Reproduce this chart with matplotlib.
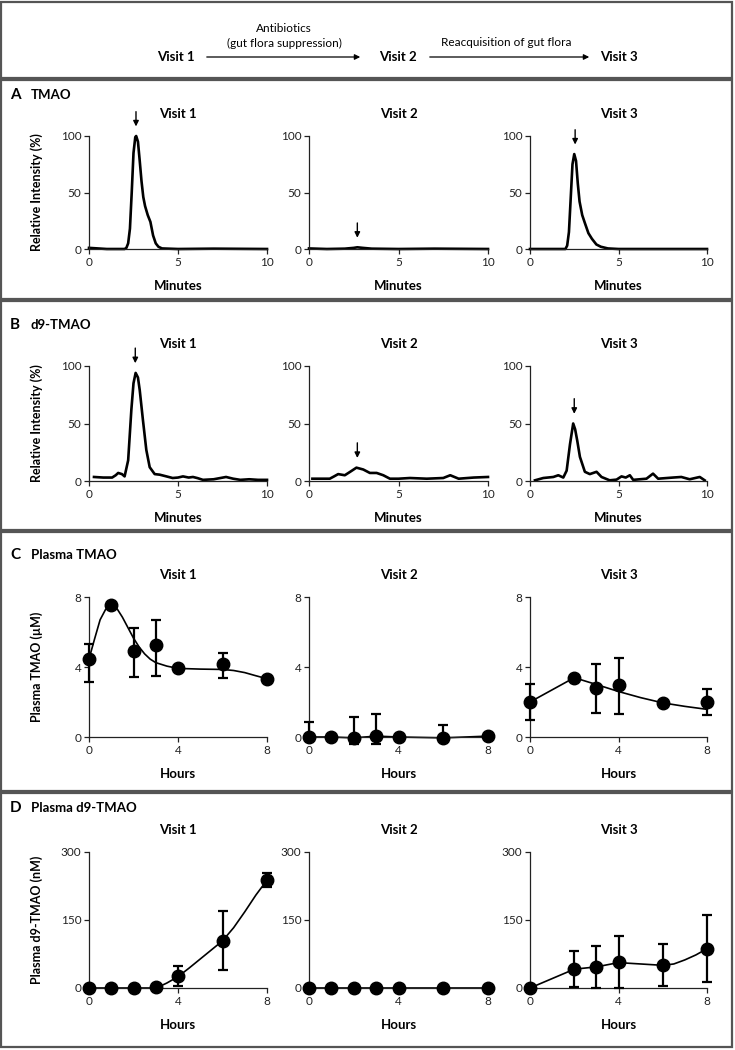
import matplotlib as mpl
mpl.use('Agg')
import matplotlib.pyplot as plt
from matplotlib.patches import Rectangle

plt.rcParams['font.family'] = ['Lato', 'DejaVu Sans']

# ---- data ----
visits = ['Visit 1', 'Visit 2', 'Visit 3']

# panel A: TMAO chromatograms (minutes, relative intensity %)
tmao_v1_t = [0, 0.5, 1, 2.0, 2.1, 2.2, 2.3, 2.4, 2.5, 2.6, 2.65, 2.75, 2.85, 2.95, 3.05, 3.15, 3.3, 3.45, 3.6, 3.75, 3.9, 4.1, 5, 7, 10]
tmao_v1_i = [1, 0.5, 0, 0, 1, 5, 18, 50, 85, 99, 100, 95, 78, 60, 46, 38, 30, 24, 12, 5, 2, 0.5, 0, 0.3, 0]
tmao_v2_t = [0, 1, 2, 2.5, 2.7, 3, 3.5, 5, 7, 10]
tmao_v2_i = [0.5, 0, 0.3, 1, 1.5, 1, 0.3, 0, 0.3, 0]
tmao_v3_t = [0, 1, 2.0, 2.1, 2.2, 2.3, 2.4, 2.5, 2.6, 2.7, 2.8, 2.95, 3.1, 3.3, 3.5, 3.75, 4.0, 4.4, 5, 9.5, 10]
tmao_v3_i = [0, 0, 0, 3, 15, 45, 75, 84, 78, 58, 42, 30, 23, 14, 9, 4, 2, 0.5, 0, 0, 0]

# panel B: d9-TMAO chromatograms
d9_v1_t = [0.28, 0.8, 1.3, 1.5, 1.64, 1.85, 2.0, 2.2, 2.38, 2.5, 2.62, 2.75, 2.85, 3.03, 3.22, 3.41, 3.69, 3.97, 4.35, 4.7, 5.0, 5.28, 5.6, 5.84, 6.1, 6.4, 7.0, 7.7, 8.1, 8.5, 9.0, 9.5, 10]
d9_v1_i = [3.5, 3, 3, 5, 7, 6, 4, 18, 62, 85, 94, 90, 79, 53, 27, 12, 6, 5.5, 4, 2.6, 3, 4, 3, 3.5, 2.5, 1, 1.5, 3.5, 2, 1, 1.5, 1, 1]
d9_v2_t = [0.19, 0.6, 1.16, 1.4, 1.63, 2.0, 2.3, 2.65, 3.03, 3.4, 3.78, 4.15, 4.52, 5.0, 5.64, 6.58, 7.5, 7.89, 8.36, 9.2, 10]
d9_v2_i = [2, 2, 2, 4, 6, 5, 8, 11.6, 10, 7, 7, 5, 2, 2, 2.6, 2, 2.6, 5, 2, 3, 3.5]
d9_v3_t = [0.28, 0.75, 1.32, 1.6, 1.88, 2.07, 2.26, 2.44, 2.55, 2.67, 2.82, 3.1, 3.38, 3.76, 4.04, 4.5, 4.89, 5.17, 5.41, 5.64, 5.83, 6.58, 6.95, 7.24, 8.08, 8.55, 9.02, 9.59, 9.87]
d9_v3_i = [0.6, 2.6, 3.5, 5, 3, 9, 32, 50, 45, 35, 21, 8, 6, 8, 3.5, 0.6, 1.2, 4, 3, 5, 1, 2, 6.4, 2, 3, 3.5, 1.5, 3.5, 0.6]

# arrows mark the TMAO peak on each trace
peak_min_a = [2.64, 2.7, 2.55]
peak_min_b = [2.6, 2.7, 2.5]
peak_top_a = [100, 1.5, 84]
peak_top_b = [94, 11.6, 50]

# panel C: plasma TMAO (uM)
hours_v12 = [0, 1, 2, 3, 4, 6, 8]
hours_v3 = [0, 2, 3, 4, 6, 8]
ptmao_v1 = [4.46, 7.54, 4.94, 5.26, 3.92, 4.15, 3.33]
ptmao_v1_lo = [1.3, 0, 1.5, 1.8, 0, 0.75, 0]
ptmao_v1_hi = [0.86, 0, 1.28, 1.4, 0, 0.67, 0]
ptmao_v2 = [0.0, 0.0, -0.05, 0.05, 0.0, -0.05, 0.05]
ptmao_v2_lo = [0, 0, 0.35, 0.45, 0, 0.1, 0]
ptmao_v2_hi = [0.85, 0, 1.2, 1.25, 0, 0.72, 0]
ptmao_v3 = [2.0, 3.39, 2.82, 2.95, 1.96, 2.0]
ptmao_v3_lo = [1.05, 0, 1.45, 1.65, 0, 0.76]
ptmao_v3_hi = [1.05, 0, 1.37, 1.56, 0, 0.74]
# fitted curves drawn through the points
ptmao_fit_v1_h = [0, 0.25, 0.5, 0.75, 1, 1.25, 1.5, 1.75, 2, 2.25, 2.5, 2.75, 3, 3.5, 4, 5, 6, 6.5, 7, 7.5, 8]
ptmao_fit_v1 = [4.46, 5.6, 6.7, 7.3, 7.55, 7.35, 6.85, 6.25, 5.65, 5.15, 4.75, 4.45, 4.25, 4.05, 3.92, 3.88, 3.86, 3.8, 3.68, 3.5, 3.33]
ptmao_fit_v3_h = [0, 2, 3, 4, 5, 6, 7, 8]
ptmao_fit_v3 = [2.0, 3.39, 3.0, 2.6, 2.25, 1.95, 1.75, 1.58]

# panel D: plasma d9-TMAO (nM)
pd9_v1 = [0, 0, 0, 2, 25.6, 104, 238]
pd9_v1_err = [0, 0, 0, 0, 22, 65, 16]
pd9_v2 = [0, 0, 0, 0, 0, 0, 0]
pd9_v2_err = [0, 0, 0, 0, 0, 0, 0]
pd9_v3 = [0, 41.5, 46.6, 57.5, 50.2, 86.7]
pd9_v3_err = [0, 40, 46, 58, 46, 74]
pd9_fit_v1_h = [0, 3, 3.2, 3.5, 4, 4.5, 5, 5.5, 6, 6.5, 7, 7.5, 8]
pd9_fit_v1 = [0, 0, 4, 11, 25, 44, 64, 84, 104, 133, 168, 205, 238]
pd9_fit_v3_h = [0, 2, 3, 4, 5, 6, 6.5, 7, 7.5, 8]
pd9_fit_v3 = [0, 41.5, 46.6, 56, 53, 50, 53, 62, 73, 86.7]

# ---- layout (pixels of the 735x1050 canvas) ----
W, H = 735, 1050
cols_px = [(89, 267), (309, 488), (530, 707)]
rows_px = [(136, 249), (366, 481), (597, 737), (852, 988)]

fig = plt.figure(figsize=(W / 100, H / 100), dpi=100)

# overlay for frames and header
bg = fig.add_axes([0, 0, 1, 1])
bg.set_xlim(0, W)
bg.set_ylim(H, 0)
bg.axis('off')
for y0, y1 in [(2, 78), (80, 299), (301, 530), (532, 791), (793, 1047)]:
    bg.add_patch(Rectangle((1.5, y0), 731, y1 - y0, fill=False, ec='#555555', lw=1.6))

bg.text(176, 57, 'Visit 1', ha='center', va='center', fontsize=9.5, fontweight='bold')
bg.text(398, 57, 'Visit 2', ha='center', va='center', fontsize=9.5, fontweight='bold')
bg.text(619, 57, 'Visit 3', ha='center', va='center', fontsize=9.5, fontweight='bold')
for xa, xb in [(204, 363), (427, 592)]:
    bg.annotate('', xy=(xb, 57), xytext=(xa, 57),
                arrowprops=dict(arrowstyle='-|>', color='black', lw=0.9, mutation_scale=8))
bg.text(284, 28, 'Antibiotics', ha='center', va='center', fontsize=8.5)
bg.text(284, 43, '(gut flora suppression)', ha='center', va='center', fontsize=8.5)
bg.text(506, 43, 'Reacquisition of gut flora', ha='center', va='center', fontsize=8.5)

panel_tags = ['A', 'B', 'C', 'D']
panel_names = ['TMAO', 'd9-TMAO', 'Plasma TMAO', 'Plasma d9-TMAO']
panel_y = [95, 325, 555, 808]
for tag, nm, yy in zip(panel_tags, panel_names, panel_y):
    bg.text(10, yy, tag, ha='left', va='center', fontsize=11, fontweight='bold')
    bg.text(31, yy, nm, ha='left', va='center', fontsize=9.5, fontweight='bold')


def make_ax(r, c):
    x0, x1 = cols_px[c]
    y0, y1 = rows_px[r]
    ax = fig.add_axes([x0 / W, 1 - y1 / H, (x1 - x0) / W, (y1 - y0) / H])
    for s in ['top', 'right']:
        ax.spines[s].set_visible(False)
    for s in ['left', 'bottom']:
        ax.spines[s].set_linewidth(0.9)
        ax.spines[s].set_color('#222222')
    ax.tick_params(direction='out', length=3.5, width=0.9, labelsize=8.5, pad=2, colors='#222222')
    ax.set_title(visits[c], fontsize=9.5, fontweight='bold', pad=13)
    return ax


chrom = [
    [(tmao_v1_t, tmao_v1_i), (tmao_v2_t, tmao_v2_i), (tmao_v3_t, tmao_v3_i)],
    [(d9_v1_t, d9_v1_i), (d9_v2_t, d9_v2_i), (d9_v3_t, d9_v3_i)],
]
peaks = [(peak_min_a, peak_top_a), (peak_min_b, peak_top_b)]

for r in range(2):
    for c in range(3):
        ax = make_ax(r, c)
        t, i = chrom[r][c]
        ax.plot(t, i, color='black', lw=1.9, clip_on=False, solid_joinstyle='round')
        px, pt = peaks[r][0][c], peaks[r][1][c]
        ax.annotate('', xy=(px, pt + 6), xytext=(px, pt + 24), annotation_clip=False,
                    arrowprops=dict(arrowstyle='-|>', color='black', lw=1.0, mutation_scale=8))
        ax.set_xlim(0, 10)
        ax.set_ylim(0, 100)
        ax.set_xticks([0, 5, 10])
        ax.set_yticks([0, 50, 100])
        ax.set_xlabel('Minutes', fontsize=9.5, fontweight='bold', labelpad=9)
        if c == 0:
            ax.set_ylabel('Relative Intensity (%)', fontsize=9, fontweight='bold')
            ax.yaxis.set_label_coords(-0.26, 0.5)


def draw_points(ax, h, y, lo, hi, fh, fy):
    ax.plot(fh, fy, color='black', lw=1.2, clip_on=False, zorder=2)
    cont = ax.errorbar(h, y, yerr=[lo, hi], fmt='o', color='black', ms=9,
                       elinewidth=1.6, capsize=3.5, capthick=1.6, zorder=3)
    for art in cont.get_children():
        art.set_clip_on(False)


c_sets = [
    (hours_v12, ptmao_v1, ptmao_v1_lo, ptmao_v1_hi, ptmao_fit_v1_h, ptmao_fit_v1),
    (hours_v12, ptmao_v2, ptmao_v2_lo, ptmao_v2_hi, hours_v12, ptmao_v2),
    (hours_v3, ptmao_v3, ptmao_v3_lo, ptmao_v3_hi, ptmao_fit_v3_h, ptmao_fit_v3),
]
d_sets = [
    (hours_v12, pd9_v1, pd9_v1_err, pd9_v1_err, pd9_fit_v1_h, pd9_fit_v1),
    (hours_v12, pd9_v2, pd9_v2_err, pd9_v2_err, hours_v12, pd9_v2),
    (hours_v3, pd9_v3, pd9_v3_err, pd9_v3_err, pd9_fit_v3_h, pd9_fit_v3),
]

# panel C
for c in range(3):
    ax = make_ax(2, c)
    draw_points(ax, *c_sets[c])
    ax.set_xlim(0, 8)
    ax.set_ylim(0, 8)
    ax.set_xticks([0, 4, 8])
    ax.set_yticks([0, 4, 8])
    ax.set_xlabel('Hours', fontsize=9.5, fontweight='bold', labelpad=9)
    if c == 0:
        ax.set_ylabel('Plasma TMAO (\u00b5M)', fontsize=9, fontweight='bold')
        ax.yaxis.set_label_coords(-0.26, 0.5)

# panel D
for c in range(3):
    ax = make_ax(3, c)
    draw_points(ax, *d_sets[c])
    ax.set_xlim(0, 8)
    ax.set_ylim(0, 300)
    ax.set_xticks([0, 4, 8])
    ax.set_yticks([0, 150, 300])
    ax.set_xlabel('Hours', fontsize=9.5, fontweight='bold', labelpad=9)
    if c == 0:
        ax.set_ylabel('Plasma d9-TMAO (nM)', fontsize=9, fontweight='bold')
        ax.yaxis.set_label_coords(-0.26, 0.5)

fig.savefig('out.png', dpi=100)
